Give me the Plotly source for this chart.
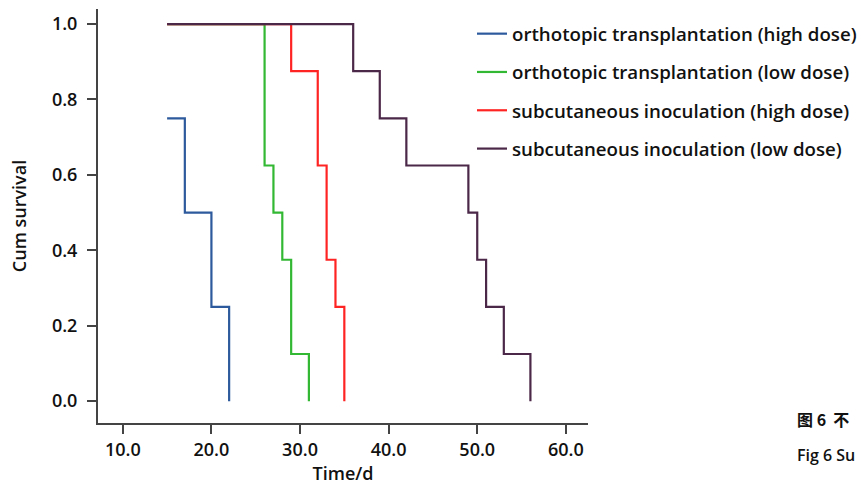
import plotly.graph_objects as go

# Kaplan-Meier step data (time in days, cumulative survival)
names = [
    "orthotopic transplantation (high dose)",
    "orthotopic transplantation (low dose)",
    "subcutaneous inoculation (high dose)",
    "subcutaneous inoculation (low dose)",
]
ortho_high_t = [15, 17, 20, 22]
ortho_high_s = [0.75, 0.5, 0.25, 0.0]
ortho_low_t = [15, 26, 27, 28, 29, 31]
ortho_low_s = [1.0, 0.625, 0.5, 0.375, 0.125, 0.0]
subcut_high_t = [15, 29, 32, 33, 34, 35]
subcut_high_s = [1.0, 0.875, 0.625, 0.375, 0.25, 0.0]
subcut_low_t = [15, 36, 39, 42, 49, 50, 51, 53, 56]
subcut_low_s = [1.0, 0.875, 0.75, 0.625, 0.5, 0.375, 0.25, 0.125, 0.0]
colors = ["#2d5a9c", "#33b833", "#ff2424", "#4b2748"]

x_ticks = [10, 20, 30, 40, 50, 60]
y_ticks = [0.0, 0.2, 0.4, 0.6, 0.8, 1.0]

FONT = "Open Sans"
TXT = "#111111"
fig = go.Figure()
series = [
    (ortho_high_t, ortho_high_s),
    (ortho_low_t, ortho_low_s),
    (subcut_high_t, subcut_high_s),
    (subcut_low_t, subcut_low_s),
]
for i, ((t, s), name, c) in enumerate(zip(series, names, colors)):
    fig.add_trace(go.Scatter(
        x=t, y=s, mode="lines", line=dict(color=c, width=2.2, shape="hv"),
        name=name, legendgroup=f"g{i}", legendrank=i + 1,
    ))

axis_common = dict(
    showline=True, linecolor="#444444", linewidth=2,
    ticks="outside", ticklen=9, tickwidth=2, tickcolor="#444444",
    showgrid=False, zeroline=False, mirror=False,
    tickfont=dict(family=FONT, size=18, color=TXT, weight=600),
)
fig.update_xaxes(range=[7.2, 62.5], tickvals=x_ticks,
                 ticktext=[f"{v:.1f}" for v in x_ticks],
                 title=dict(text="Time/d", font=dict(family=FONT, size=18, color=TXT, weight=600), standoff=8),
                 **axis_common)
fig.update_yaxes(range=[-0.058, 1.04], tickvals=y_ticks,
                 ticktext=[f"{v:.1f}" for v in y_ticks],
                 ticklabelstandoff=6,
                 title=dict(text="Cum survival", font=dict(family=FONT, size=18, color=TXT, weight=600), standoff=21),
                 **axis_common)

fig.add_annotation(xref="paper", yref="paper", x=(795 - 98) / 490, y=(423 - 419) / 414,
                   xanchor="left", yanchor="middle", showarrow=False, text="图 6  不",
                   font=dict(family="Noto Sans CJK SC", size=16, color=TXT, weight=600))
fig.add_annotation(xref="paper", yref="paper", x=(795 - 98) / 490, y=(423 - 455) / 414,
                   xanchor="left", yanchor="middle", showarrow=False, text="Fig 6 Su",
                   font=dict(family=FONT, size=16, color=TXT, weight=600))

fig.update_layout(
    width=861, height=487,
    margin=dict(l=98, r=273, t=9, b=64, autoexpand=False),
    paper_bgcolor="white", plot_bgcolor="white",
    showlegend=True,
    legend=dict(
        x=(472 - 98) / 490, y=(423 - 15) / 414, xanchor="left", yanchor="top",
        bgcolor="rgba(0,0,0,0)", tracegroupgap=11, itemwidth=30,
        font=dict(family=FONT, size=18.7, color=TXT, weight=600),
    ),
)
fig.write_html("out.html", post_script="document.body.style.margin='0';",
               config={"displayModeBar": False})
